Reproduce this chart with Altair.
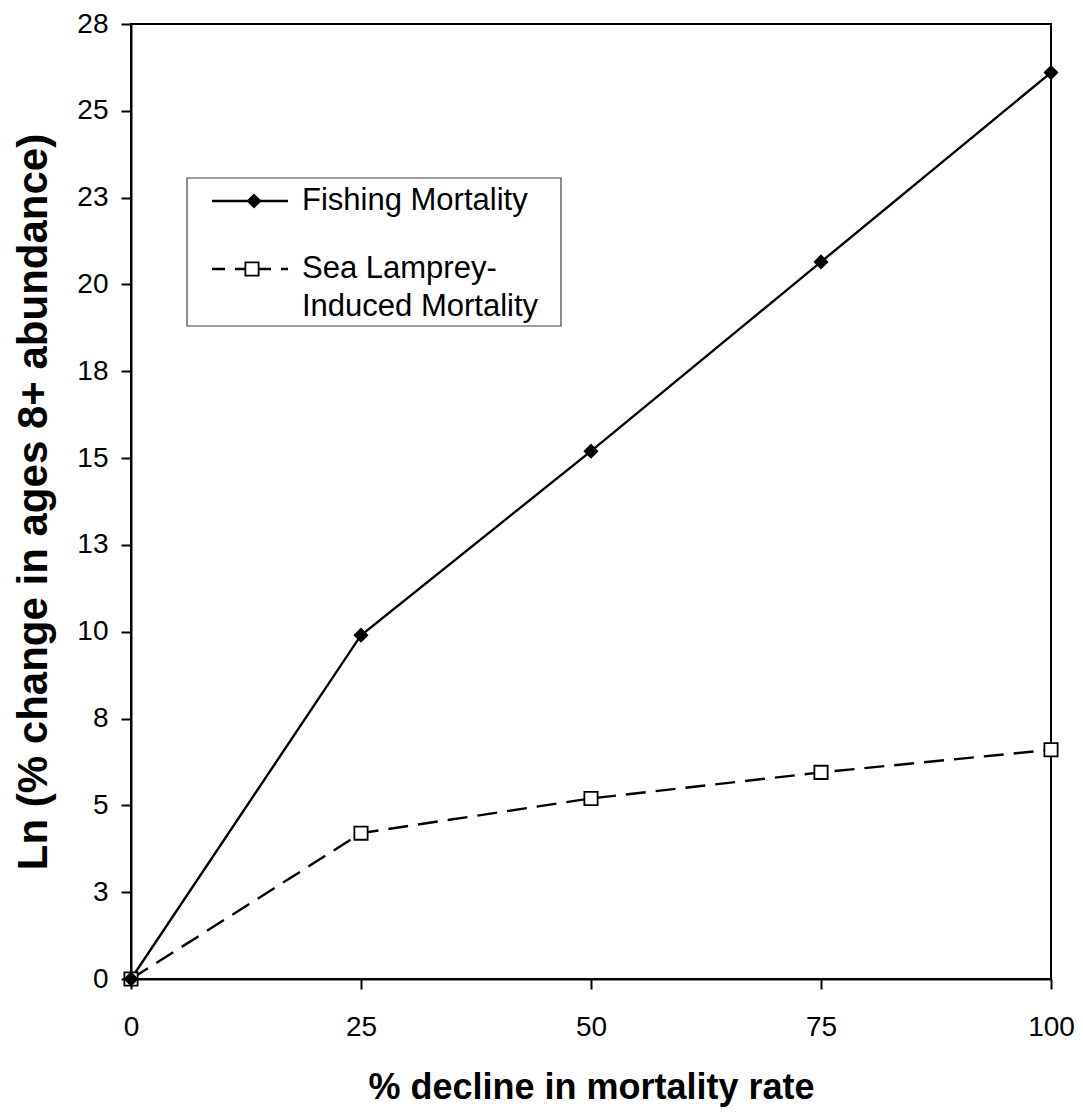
import altair as alt
import pandas as pd

# ---- data ----
decline = [0, 25, 50, 75, 100]
fishing = [0.0, 9.9, 15.2, 20.65, 26.1]
lamprey = [0.0, 4.2, 5.2, 5.95, 6.6]
series_names = ["Fishing Mortality", "Sea Lamprey-Induced Mortality"]

x_ticks = [0, 25, 50, 75, 100]
y_ticks = [0, 2.5, 5, 7.5, 10, 12.5, 15, 17.5, 20, 22.5, 25, 27.5]
y_labels = ["0", "3", "5", "8", "10", "13", "15", "18", "20", "23", "25", "28"]

legend_line1 = "Fishing Mortality"
legend_line2 = ["Sea Lamprey-", "Induced Mortality"]

x_title = "% decline in mortality rate"
y_title = "Ln (% change in ages 8+ abundance)"

W, H = 920, 955
FONT = "Liberation Sans"
LEG_FS = 31
LW = 2.4

df = pd.DataFrame({
    "decline": decline * 2,
    "value": fishing + lamprey,
    "series": [series_names[0]] * len(decline) + [series_names[1]] * len(decline),
})
fish_df = df[df.series == series_names[0]]
lamp_df = df[df.series == series_names[1]]

label_expr = "{" + ",".join(f"'{v}':'{l}'" for v, l in zip(y_ticks, y_labels)) + "}[toString(datum.value)]"

x_enc = alt.X("decline:Q",
              scale=alt.Scale(domain=[0, 100], nice=False, zero=False),
              axis=alt.Axis(values=x_ticks, title=x_title, titleY=108,
                            titleBaseline="middle", titleFontSize=36, labelPadding=24,
                            labelFlush=False))
y_enc = alt.Y("value:Q",
              scale=alt.Scale(domain=[0, 27.5], nice=False),
              axis=alt.Axis(values=y_ticks, labelExpr=label_expr, title=y_title,
                            titleX=-98, titleBaseline="middle", titleFontSize=42,
                            labelPadding=13, labelFlush=False))

fish_line = alt.Chart(fish_df).mark_line(color="black", strokeWidth=LW).encode(x=x_enc, y=y_enc)
fish_pts = alt.Chart(fish_df).mark_point(shape="diamond", filled=True, color="black",
                                         size=230, opacity=1).encode(x="decline:Q", y="value:Q")
lamp_line = alt.Chart(lamp_df).mark_line(color="black", strokeWidth=LW,
                                         strokeDash=[20, 10]).encode(x="decline:Q", y="value:Q")
lamp_pts = alt.Chart(lamp_df).mark_point(shape="square", filled=True, fill="white",
                                         stroke="black", strokeWidth=1.8, size=175,
                                         opacity=1).encode(x="decline:Q", y="value:Q")

one = pd.DataFrame({"k": [0]})
leg_box = alt.Chart(one).mark_rect(fill="white", stroke="#404040", strokeWidth=1.2).encode(
    x=alt.value(56), x2=alt.value(430), y=alt.value(154), y2=alt.value(302))
leg_l1 = alt.Chart(one).mark_rule(color="black", strokeWidth=LW).encode(
    x=alt.value(81), x2=alt.value(157), y=alt.value(177))
leg_p1 = alt.Chart(one).mark_point(shape="diamond", filled=True, color="black", size=230,
                                   opacity=1).encode(x=alt.value(123), y=alt.value(177))
leg_l2 = alt.Chart(one).mark_rule(color="black", strokeWidth=LW, strokeDash=[13, 10]).encode(
    x=alt.value(81), x2=alt.value(157), y=alt.value(245))
leg_p2 = alt.Chart(one).mark_point(shape="square", filled=True, fill="white", stroke="black",
                                   strokeWidth=1.8, size=175, opacity=1).encode(
    x=alt.value(121), y=alt.value(245))
leg_t1 = alt.Chart(one).mark_text(align="left", baseline="middle", font=FONT, fontSize=LEG_FS,
                                  color="black").encode(
    x=alt.value(171), y=alt.value(177), text=alt.value(legend_line1))
leg_t2 = alt.Chart(one).mark_text(align="left", baseline="middle", font=FONT, fontSize=LEG_FS,
                                  color="black").encode(
    x=alt.value(171), y=alt.value(245), text=alt.value(legend_line2[0]))
leg_t3 = alt.Chart(one).mark_text(align="left", baseline="middle", font=FONT, fontSize=LEG_FS,
                                  color="black").encode(
    x=alt.value(171), y=alt.value(283), text=alt.value(legend_line2[1]))

chart = alt.layer(
    lamp_line, fish_line, lamp_pts, fish_pts,
    leg_box, leg_l1, leg_p1, leg_l2, leg_p2, leg_t1, leg_t2, leg_t3,
).properties(
    width=W, height=H,
    autosize=alt.AutoSizeParams(type="none"),
    padding={"left": 123, "top": 16, "right": 24, "bottom": 133},
    background="white",
).configure_view(
    stroke="black", strokeWidth=2
).configure_axis(
    labelFont=FONT, labelFontSize=28, labelColor="black",
    titleFont=FONT, titleFontWeight="bold", titleColor="black",
    domainColor="black", domainWidth=2, tickColor="black", tickWidth=2, tickSize=10,
    grid=False,
)

chart.save("out.html", embed_options={"renderer": "svg", "actions": False})
